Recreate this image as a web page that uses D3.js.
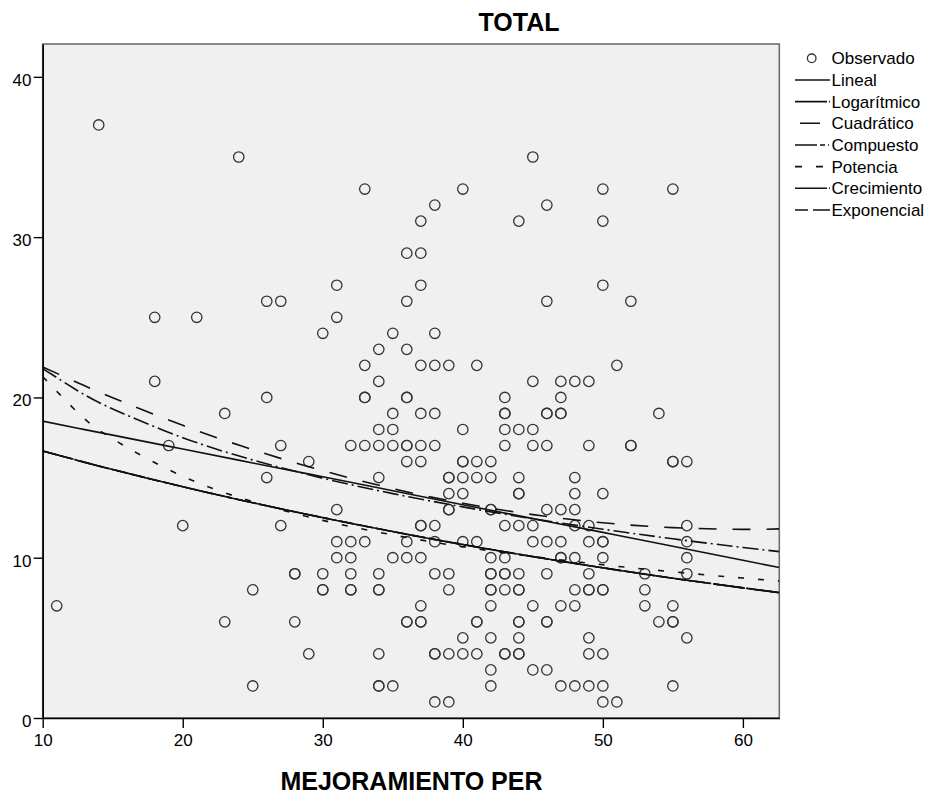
<!DOCTYPE html>
<html><head><meta charset="utf-8">
<script src="https://cdn.jsdelivr.net/npm/d3@7"></script>
<style>
body{margin:0;background:#fff}
svg{display:block}
text{font-family:"Liberation Sans",Arial,sans-serif;fill:#000}
</style>
</head><body>
<svg id="c" width="932" height="796"></svg>
<script>
// ---------- data ----------
const xDomain = [10, 62.6];
const yDomain = [0, 42.05];
const xTicks = [10, 20, 30, 40, 50, 60];
const yTicks = [0, 10, 20, 30, 40];
const chartTitle = "TOTAL";
const xTitle = "MEJORAMIENTO PER";

// observed points grouped by x value
const obsXValues = [11,14,18,19,20,21,23,24,25,26,27,28,29,30,31,32,33,34,35,36,37,38,39,40,41,42,43,44,45,46,47,48,49,50,51,52,53,54,55,56];
const obsYByX = [
  [7],[37],[25,21],[17],[12],[25],[19,6],[35],[8,2],[26,20,15],[26,17,12],[9,9,6],[16,4],
  [24,9,8,8],[27,25,13,11,10],[17,11,10,9,8,8],[33,22,20,20,17,11],
  [23,21,18,17,15,9,8,8,4,2,2],[24,19,18,17,10,2],
  [29,26,23,20,20,17,17,16,11,10,6,6],[31,29,27,22,19,17,16,12,12,10,7,6,6],
  [32,24,22,19,17,12,11,9,4,4,1],[22,15,15,14,13,13,9,8,4,1],[33,18,16,16,15,14,11,5,4],
  [22,16,15,11,6,6,4],[16,15,13,13,10,9,9,8,8,7,5,3,2],[20,19,19,18,17,12,10,9,9,8,4,4],
  [31,18,15,14,14,12,9,8,8,6,6,5,4,4],[35,21,18,17,12,11,7,3],[32,26,19,19,17,13,11,9,6,6,3],
  [21,20,19,19,13,11,10,10,7,2],[21,15,14,13,12,10,8,7,2],[21,17,12,11,9,8,8,5,4,2],
  [33,31,27,14,11,11,10,8,8,4,2,1],[22,1],[26,17,17],[9,8,7],[19,6],[33,16,16,7,6,6,2],[16,12,11,10,9,5]
];

// fitted curves, values read at these x positions
const fitX        = [10,    12.5,  15,    20,    25,    30,    35,    40,    45,    50,    55,    60,    62.6];
const linealY     = [18.52, 18.08, 17.65, 16.78, 15.91, 15.05, 14.18, 13.31, 12.44, 11.58, 10.71, 9.84,  9.39];
const logY        = [21.80, 20.42, 19.28, 17.49, 16.10, 14.96, 14.00, 13.17, 12.43, 11.78, 11.18, 10.64, 10.38];
const cuadY       = [21.90, 20.92, 19.98, 18.26, 16.74, 15.43, 14.31, 13.40, 12.69, 12.18, 11.88, 11.77, 11.80];
const compuestoY  = [16.66, 16.07, 15.50, 14.43, 13.43, 12.50, 11.63, 10.82, 10.07, 9.37,  8.72,  8.12,  7.82];
const potenciaY   = [21.30, 19.06, 17.41, 15.08, 13.50, 12.33, 11.42, 10.68, 10.08, 9.56,  9.12,  8.73,  8.55];
const crecimY     = compuestoY;
const exponY      = compuestoY;

const legendLabels = ["Observado","Lineal","Logarítmico","Cuadrático","Compuesto","Potencia","Crecimiento","Exponencial"];

// ---------- drawing ----------
const svg = d3.select("#c");
const L = 42.7, R = 779.3, T = 44, B = 718;
const x = d3.scaleLinear().domain(xDomain).range([L, R]);
const y = d3.scaleLinear().domain(yDomain).range([B, T]);

svg.append("rect").attr("x", L).attr("y", T).attr("width", R - L).attr("height", B - T)
  .attr("fill", "#f0f0f0").attr("stroke", "#6e6e6e").attr("stroke-width", 1.6);

svg.append("defs").append("clipPath").attr("id", "clip")
  .append("rect").attr("x", L).attr("y", T).attr("width", R - L).attr("height", B - T);

// points
const pts = [];
obsXValues.forEach((xv, i) => obsYByX[i].forEach(yv => pts.push([xv, yv])));
svg.append("g").selectAll("circle").data(pts).join("circle")
  .attr("cx", d => x(d[0])).attr("cy", d => y(d[1])).attr("r", 5.2)
  .attr("fill", "none").attr("stroke", "#333").attr("stroke-width", 1.3);

// curves
const styles = {
  lineal: null,
  log: "16,4,2,4",
  cuad: "18,16",
  comp: "22,3,5,3",
  pot: "6,14",
  crec: "30,3,2,3",
  expo: "14,4"
};
const curves = [
  [linealY, styles.lineal],
  [logY, styles.log],
  [cuadY, styles.cuad],
  [compuestoY, styles.comp],
  [potenciaY, styles.pot],
  [crecimY, styles.crec],
  [exponY, styles.expo]
];
const line = d3.line().x(d => x(d[0])).y(d => y(d[1])).curve(d3.curveNatural);
const cg = svg.append("g").attr("clip-path", "url(#clip)");
curves.forEach(([vals, dash]) => {
  cg.append("path").attr("d", line(fitX.map((xv, i) => [xv, vals[i]])))
    .attr("fill", "none").attr("stroke", "#111").attr("stroke-width", 1.6)
    .attr("stroke-dasharray", dash);
});

// axes
const ax = svg.append("g").attr("transform", `translate(0,${B})`)
  .call(d3.axisBottom(x).tickValues(xTicks).tickSize(10).tickSizeOuter(0).tickPadding(6));
const ay = svg.append("g").attr("transform", `translate(${L},0)`)
  .call(d3.axisLeft(y).tickValues(yTicks).tickSize(9).tickSizeOuter(0).tickPadding(2.2));
[ax, ay].forEach(g => {
  g.select(".domain").attr("stroke", "#000").attr("stroke-width", 1.6);
  g.selectAll(".tick line").attr("stroke", "#000").attr("stroke-width", 1.4);
  g.selectAll(".tick text").attr("font-size", 17).attr("fill", "#000")
    .style("font-family", "'Liberation Sans',Arial,sans-serif");
});
ay.selectAll(".tick text").attr("dy", "0.5em");

// titles
svg.append("text").attr("x", 519).attr("y", 31).attr("text-anchor", "middle")
  .attr("font-size", 25).attr("font-weight", "bold").text(chartTitle);
svg.append("text").attr("x", 411.5).attr("y", 790).attr("text-anchor", "middle")
  .attr("font-size", 25).attr("font-weight", "bold").text(xTitle);

// legend
const legDash = [null, null, "32,2,1,10", "0,5,20,20", "22,3,5,3,1,10", "7,14,7,10", "32,2,1,10", "13,5,17,10"];
const lg = svg.append("g");
legendLabels.forEach((lab, i) => {
  const cy = 58.3 + i * 21.67;
  if (i === 0) {
    lg.append("circle").attr("cx", 811.7).attr("cy", cy).attr("r", 4.3)
      .attr("fill", "none").attr("stroke", "#333").attr("stroke-width", 1.3);
  } else {
    lg.append("line").attr("x1", 795).attr("x2", 830).attr("y1", cy).attr("y2", cy)
      .attr("stroke", "#111").attr("stroke-width", 1.6).attr("stroke-dasharray", legDash[i]);
  }
  lg.append("text").attr("x", 831.5).attr("y", cy + 6).attr("font-size", 17).text(lab);
});
</script>
</body></html>
